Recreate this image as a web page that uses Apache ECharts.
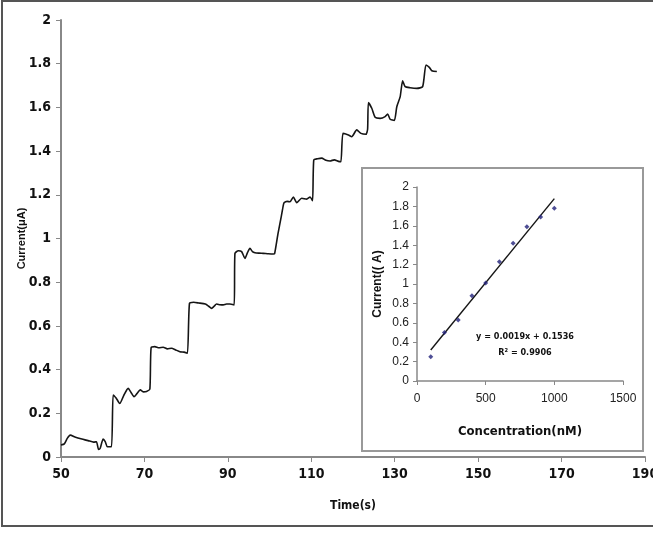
<!DOCTYPE html>
<html>
<head>
<meta charset="utf-8">
<script src="https://cdn.jsdelivr.net/npm/echarts@6/dist/echarts.min.js"></script>
<style>
  html, body { margin: 0; padding: 0; background: #fff; }
  #chart { width: 653px; height: 533px; }
</style>
</head>
<body>
<div id="chart"></div>
<script>
// 主图: 时间-电流曲线
const timeS = [50.0, 50.8, 51.5, 52.2, 53.5, 55, 56.5, 57.8, 58.5, 59.0, 59.4, 60.1, 60.6, 61.1, 62.1,
  62.5, 63.2, 64.1, 65.0, 66.1, 66.8, 67.5, 68.2, 69.0, 69.8, 70.5, 71.3,
  71.6, 72.5, 73.5, 74.5, 75.5, 76.5, 77.5, 78.5, 79.5, 80.3,
  80.8, 81.8, 83.0, 84.6, 85.4, 86.1, 86.7, 87.3, 88.1, 88.9, 89.7, 90.5, 91.5,
  91.7, 92.5, 93.3, 94.1, 94.7, 95.3, 95.9, 96.5, 97.5, 98.5, 99.7, 100.9, 101.2,
  102.0, 102.8, 103.3, 103.5, 104.2, 104.9, 105.7, 106.5, 107.7, 108.9, 109.7, 110.3,
  110.6, 111.5, 112.5, 113.5, 114.5, 115.5, 116.5, 117.1,
  117.6, 118.9, 119.7, 120.9, 121.9, 123.1, 123.5,
  123.7, 124.5, 125.3, 126.5, 127.7, 128.3, 128.9, 129.9, 130.5, 131.3,
  131.9, 132.5, 133.7, 135.3, 136.7, 137.5, 138.3, 138.9, 140.1];
const currentUA = [0.055, 0.06, 0.085, 0.10, 0.09, 0.082, 0.075, 0.068, 0.07, 0.035, 0.04, 0.082, 0.07, 0.047, 0.047,
  0.284, 0.27, 0.245, 0.28, 0.314, 0.295, 0.276, 0.29, 0.307, 0.298, 0.30, 0.31,
  0.50, 0.505, 0.50, 0.502, 0.495, 0.498, 0.49, 0.482, 0.48, 0.475,
  0.703, 0.708, 0.705, 0.70, 0.69, 0.68, 0.69, 0.70, 0.697, 0.696, 0.70, 0.70, 0.696,
  0.932, 0.944, 0.94, 0.909, 0.935, 0.955, 0.94, 0.935, 0.933, 0.932, 0.93, 0.929, 0.93,
  1.02, 1.10, 1.153, 1.164, 1.17, 1.168, 1.19, 1.164, 1.184, 1.18, 1.19, 1.173,
  1.36, 1.365, 1.368, 1.358, 1.355, 1.36, 1.353, 1.351,
  1.481, 1.474, 1.466, 1.497, 1.481, 1.477, 1.50,
  1.622, 1.596, 1.555, 1.55, 1.558, 1.57, 1.546, 1.54, 1.603, 1.648,
  1.722, 1.695, 1.69, 1.687, 1.695, 1.794, 1.783, 1.768, 1.764];

// 插图: 浓度-电流标定
const concNM = [100, 200, 300, 400, 500, 600, 700, 800, 900, 1000];
const insetCurrent = [0.25, 0.50, 0.63, 0.88, 1.01, 1.23, 1.42, 1.59, 1.69, 1.78];
const trendX = [100, 1000];
const trendY = [0.32, 1.88];
const fitText = ['y = 0.0019x + 0.1536', 'R\u00b2 = 0.9906'];

const dom = document.getElementById('chart');
const myChart = echarts.init(dom);

const narrow = "'DejaVu Sans Condensed', 'Liberation Sans Narrow', 'Arial Narrow', sans-serif";
const sans = "'Liberation Sans', Arial, sans-serif";

const option = {
  backgroundColor: '#fff',
  animation: false,
  graphic: [
    {
      // 外框 (右边被图片裁掉)
      type: 'rect', z: -10,
      shape: { x: 2, y: 1, width: 670, height: 525 },
      style: { fill: '#fff', stroke: '#555', lineWidth: 2 }
    },
    {
      type: 'rect', z: -5,
      shape: { x: 362, y: 168, width: 281, height: 283 },
      style: { fill: '#fff', stroke: '#999', lineWidth: 2 }
    },
    {
      type: 'text', x: 525, y: 337, z: 10,
      style: { text: fitText[0], font: "bold 9px " + narrow, fill: '#111', align: 'center', verticalAlign: 'middle' }
    },
    {
      type: 'text', x: 525, y: 353, z: 10,
      style: { text: fitText[1], font: "bold 9px " + narrow, fill: '#111', align: 'center', verticalAlign: 'middle' }
    }
  ],
  grid: [
    { left: 61, right: 8, top: 20, bottom: 76, outerBoundsMode: 'none' },
    { left: 417, right: 30, top: 187, bottom: 152, outerBoundsMode: 'none' }
  ],
  xAxis: [
    {
      gridIndex: 0, type: 'value', min: 50, max: 190, interval: 20,
      name: 'Time(s)', nameLocation: 'middle', nameGap: 43, nameMoveOverlap: false,
      nameTextStyle: { fontFamily: narrow, fontWeight: 'bold', fontSize: 12, color: '#111' },
      axisLine: { lineStyle: { color: '#888', width: 2 } },
      axisTick: { show: true, length: 5, lineStyle: { color: '#888' } },
      splitLine: { show: false },
      axisLabel: { fontFamily: narrow, fontWeight: 'bold', fontSize: 14, color: '#111', margin: 10 }
    },
    {
      gridIndex: 1, type: 'value', min: 0, max: 1500, interval: 500,
      name: 'Concentration(nM)', nameLocation: 'middle', nameGap: 44, nameMoveOverlap: false,
      nameTextStyle: { fontFamily: narrow, fontWeight: 'bold', fontSize: 13, color: '#111' },
      axisLine: { lineStyle: { color: '#888', width: 1.5 } },
      axisTick: { show: true, length: 4, lineStyle: { color: '#888' } },
      splitLine: { show: false },
      axisLabel: { fontFamily: sans, fontSize: 12, color: '#222', margin: 12, formatter: v => String(v) }
    }
  ],
  yAxis: [
    {
      gridIndex: 0, type: 'value', min: 0, max: 2, interval: 0.2,
      name: 'Current(\u03bcA)', nameLocation: 'middle', nameGap: 34, nameMoveOverlap: false,
      nameTextStyle: { fontFamily: sans, fontWeight: 'bold', fontSize: 11, color: '#111' },
      axisLine: { show: true, lineStyle: { color: '#888', width: 2 } },
      axisTick: { show: true, length: 5, lineStyle: { color: '#888' } },
      splitLine: { show: false },
      axisLabel: { fontFamily: narrow, fontWeight: 'bold', fontSize: 14, color: '#111', margin: 10 }
    },
    {
      gridIndex: 1, type: 'value', min: 0, max: 2, interval: 0.2,
      name: 'Current(( A)', nameLocation: 'middle', nameGap: 33, nameMoveOverlap: false,
      nameTextStyle: { fontFamily: sans, fontWeight: 'bold', fontSize: 12, color: '#111' },
      axisLine: { show: true, lineStyle: { color: '#888', width: 1.5 } },
      axisTick: { show: true, length: 4, lineStyle: { color: '#888' } },
      splitLine: { show: false },
      axisLabel: { fontFamily: sans, fontSize: 12, color: '#222', margin: 8 }
    }
  ],
  series: [
    {
      name: 'trace', type: 'line', xAxisIndex: 0, yAxisIndex: 0,
      data: timeS.map((t, i) => [t, currentUA[i]]),
      showSymbol: false, smooth: 0.2,
      lineStyle: { color: '#151515', width: 1.6 }
    },
    {
      name: 'fit', type: 'line', xAxisIndex: 1, yAxisIndex: 1,
      data: trendX.map((x, i) => [x, trendY[i]]),
      showSymbol: false,
      lineStyle: { color: '#151515', width: 1.4 }
    },
    {
      name: 'points', type: 'scatter', xAxisIndex: 1, yAxisIndex: 1,
      data: concNM.map((x, i) => [x, insetCurrent[i]]),
      symbol: 'diamond', symbolSize: 5,
      itemStyle: { color: '#22227a' }, z: 5
    }
  ]
};

myChart.setOption(option);

window.addEventListener('resize', function () {
  myChart.resize();
});
</script>
</body>
</html>
